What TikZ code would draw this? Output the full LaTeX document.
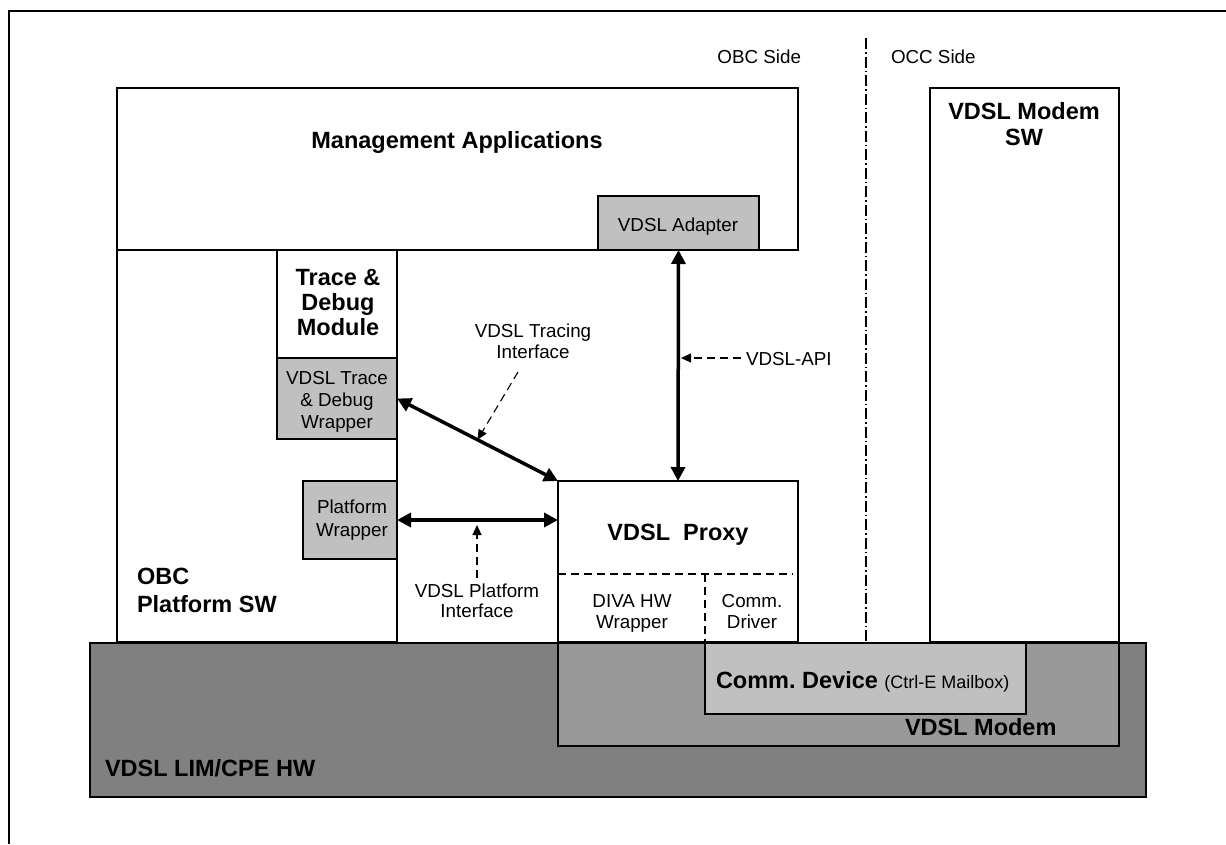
\documentclass[tikz,border=0pt]{standalone}
\usepackage{fontspec}
\setmainfont{Liberation Sans}
\usetikzlibrary{arrows.meta,calc}
\definecolor{lightg}{HTML}{C0C0C0}
\definecolor{midg}{HTML}{999999}
\definecolor{darkg}{HTML}{808080}
\frenchspacing
\begin{document}
\begin{tikzpicture}[x=1pt,y=-1pt,
  box/.style={draw, line width=1.6pt, inner sep=0pt, outer sep=0pt, anchor=north west},
  bold/.style={font=\fontsize{23.5}{25}\selectfont\bfseries, inner sep=0pt, outer sep=0pt, align=center},
  reg/.style={font=\fontsize{18.8}{21.5}\selectfont, inner sep=0pt, outer sep=0pt, align=center},
  thick arrow/.style={line width=3.5pt, {Triangle[length=14pt,width=14pt]}-{Triangle[length=14pt,width=14pt]}, shorten <=0pt, shorten >=0pt},
  note/.style={line width=1.1pt, dash pattern=on 8pt off 5pt, -{Triangle[length=10pt,width=9pt]}},
  inner dash/.style={line width=1.2pt, dash pattern=on 8pt off 5pt},
  sidediv/.style={line width=1.3pt, dash pattern=on 11pt off 3pt on 1.5pt off 3pt}
]
\useasboundingbox (0,0) rectangle (1226,844);

% outer frame
\draw[line width=2pt] (1226,11) -- (9,11) -- (9,844);

% hardware layers
\node[box, fill=darkg, minimum width=1056, minimum height=154] (lim) at (90,643) {};
\node[box, fill=midg, minimum width=561, minimum height=103] (modem) at (558,643) {};
\node[box, fill=lightg, minimum width=321, minimum height=71] (commdev) at (705,643) {};

% software boxes
\node[box, fill=white, minimum width=681, minimum height=162] (mgmt) at (117,88) {};
\node[box, fill=lightg, minimum width=161, minimum height=54] (adapter) at (598,196) {};
\node[box, fill=white, minimum width=280, minimum height=392] (obc) at (117,250) {};
\node[box, fill=white, minimum width=120, minimum height=108] (trace) at (277,250) {};
\node[box, fill=lightg, minimum width=120, minimum height=81] (tdwrap) at (277,358) {};
\node[box, fill=lightg, minimum width=94, minimum height=78] (pfwrap) at (303,481) {};
\node[box, fill=white, minimum width=240, minimum height=161] (proxy) at (558,481) {};
\node[box, fill=white, minimum width=189, minimum height=554] (modemsw) at (930,88) {};

% proxy internal divisions
\draw[inner dash] (558,574) -- (793,574);
\draw[inner dash] (705,574) -- (705,642);

% OBC / OCC divider
\draw[sidediv] (866,38) -- (866,642);
\node[reg, anchor=base east] (obcside) at (801,63) {OBC Side};
\node[reg, anchor=base west] (occside) at (891,63) {OCC Side};

% texts (multi-line nodes are placed by the baseline of their last line)
\node[bold, anchor=base] (mgmtt) at (457,148) {Management Applications};
\node[reg, anchor=base] (adaptert) at (678,231) {VDSL Adapter};
\node[bold, anchor=base, font=\fontsize{23.5}{25}\selectfont\bfseries] (tracet) at (338,335) {Trace \&\\Debug\\Module};
\node[reg, anchor=base, font=\fontsize{18.8}{22}\selectfont] (tdwrapt) at (337,428) {VDSL Trace\\\& Debug\\Wrapper};
\node[reg, anchor=base, font=\fontsize{18.8}{23}\selectfont] (pfwrapt) at (352,536) {Platform\\Wrapper};
\node[bold, anchor=base west, align=left, font=\fontsize{23.5}{28}\selectfont\bfseries] (obct) at (137,612) {OBC\\Platform SW};
\node[bold, anchor=base] (proxyt) at (678,540) {VDSL\ \ Proxy};
\node[reg, anchor=base, font=\fontsize{18.8}{21}\selectfont] (divat) at (632,628) {DIVA HW\\Wrapper};
\node[reg, anchor=base, font=\fontsize{18.8}{21}\selectfont] (drivert) at (752,628) {Comm.\\Driver};
\node[bold, anchor=base west] (commdevt) at (716,688) {Comm. Device {\fontsize{18}{20}\selectfont\mdseries(Ctrl-E Mailbox)}};
\node[bold, anchor=base west] (modemt) at (905,735) {VDSL Modem};
\node[bold, anchor=base west] (limt) at (105,776) {VDSL LIM/CPE HW};
\node[bold, anchor=base, font=\fontsize{23.5}{26}\selectfont\bfseries] (modemswt) at (1024,145) {VDSL Modem\\SW};
\node[reg, anchor=base, font=\fontsize{18.8}{21}\selectfont] (tracingl) at (533,358) {VDSL Tracing\\Interface};
\node[reg, anchor=base west] (apil) at (746,365) {VDSL-API};
\node[reg, anchor=base, font=\fontsize{18.8}{20}\selectfont] (platforml) at (477,617) {VDSL Platform\\Interface};

% interfaces
\draw[thick arrow] (adapter.south) -- (proxy.north);
\draw[thick arrow] (tdwrap.east) -- (proxy.north west);
\draw[thick arrow] (pfwrap.east) -- (pfwrap.east -| proxy.west);

% annotation arrows
\coordinate (tracefrom) at (518,372);
\coordinate (tracetip) at ($(tdwrap.east)!0.5!(proxy.north west)$);
\coordinate (apifrom) at (741,358);
\coordinate (apitip) at (681,358);
\coordinate (pffrom) at (477,578);
\coordinate (pftip) at (477,525);
\draw[note] (tracefrom) -- (tracetip);
\draw[note] (apifrom) -- (apitip);
\draw[note] (pffrom) -- (pftip);
\end{tikzpicture}
\end{document}
